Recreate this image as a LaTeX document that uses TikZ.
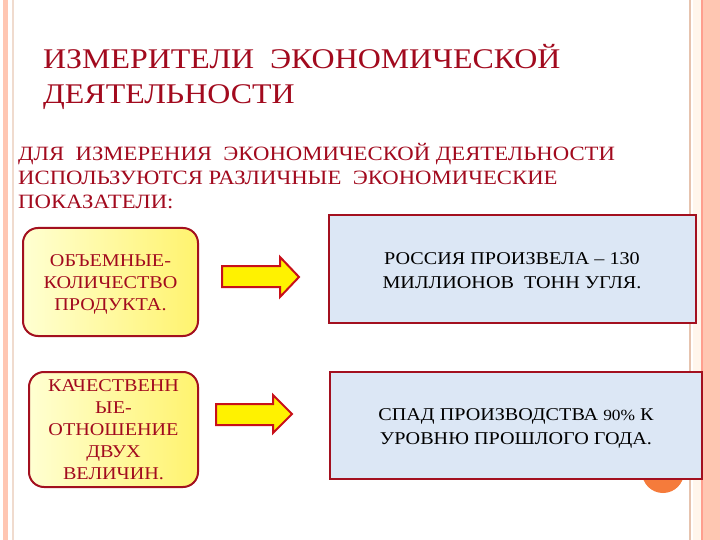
\documentclass[tikz,border=0pt]{standalone}
\usepackage{fontspec}
\setmainfont{Liberation Serif}[FakeStretch=1.12]
\definecolor{titlered}{HTML}{A20A1E}
\definecolor{boxred}{HTML}{A3101F}
\definecolor{arrowred}{HTML}{C8101A}
\definecolor{paleblue}{HTML}{DCE7F5}
\definecolor{salmon}{HTML}{FFC6B2}
\definecolor{tanline}{HTML}{E6C3AE}
\definecolor{cream}{HTML}{FFF6EC}
\definecolor{orangec}{HTML}{F57B3B}
\definecolor{paleyellow}{HTML}{FFFFD2}
\definecolor{midyellow}{HTML}{FFF36E}
\tikzset{
  leftbox/.style={draw=boxred, line width=2pt, rounded corners=15pt, left color=paleyellow, right color=midyellow, inner sep=0pt, align=center, text=titlered, font=\fontsize{18}{22}\selectfont},
  rightbox/.style={draw=boxred, line width=2pt, fill=paleblue, inner sep=0pt, align=center, text=black, font=\fontsize{18}{24}\selectfont},
  blockarrow/.style={draw=arrowred, line width=2pt, fill=yellow, line join=miter},
}
\begin{document}
\begin{tikzpicture}[x=1pt,y=-1pt]
\useasboundingbox (0,0) rectangle (720,540);
\fill[white] (0,0) rectangle (720,540);
% left border
\fill[salmon] (3,0) rectangle (8,540);
\fill[tanline!60] (12,0) rectangle (14,540);
% right border
\fill[tanline] (689,0) rectangle (691,540);
\fill[cream] (693,0) rectangle (701,540);
\fill[salmon!80!red] (701,0) rectangle (703,540);
\fill[salmon] (703,0) rectangle (720,540);
% orange circle
\fill[orangec] (663,472) circle (21);
% title
\node[anchor=base west, text=titlered, font=\fontsize{28.5}{35}\selectfont, inner sep=0pt] (title) at (43,69) {ИЗМЕРИТЕЛИ \ ЭКОНОМИЧЕСКОЙ};
\node[anchor=base west, text=titlered, font=\fontsize{28.5}{35}\selectfont, inner sep=0pt] (title2) at (43,104) {ДЕЯТЕЛЬНОСТИ};
% intro text
\node[anchor=base west, text=titlered, font=\fontsize{20.3}{24}\selectfont, inner sep=0pt] (l1) at (18,161) {ДЛЯ \ ИЗМЕРЕНИЯ \ ЭКОНОМИЧЕСКОЙ ДЕЯТЕЛЬНОСТИ};
\node[anchor=base west, text=titlered, font=\fontsize{20.3}{24}\selectfont, inner sep=0pt] (l2) at (18,185) {ИСПОЛЬЗУЮТСЯ РАЗЛИЧНЫЕ \ ЭКОНОМИЧЕСКИЕ};
\node[anchor=base west, text=titlered, font=\fontsize{20.3}{24}\selectfont, inner sep=0pt] (l3) at (18,209) {ПОКАЗАТЕЛИ:};
% boxes
\node[leftbox, minimum width=175pt, minimum height=108pt] (q1) at (110.5,282) {};
\node[text=titlered, font=\fontsize{18}{22}\selectfont, align=center] (q1t) at (110.5,284) {ОБЪЕМНЫЕ-\\КОЛИЧЕСТВО\\ПРОДУКТА.};
\node[leftbox, minimum width=169pt, minimum height=115pt] (q2) at (113.5,429.5) {КАЧЕСТВЕНН\\ЫЕ-\\ОТНОШЕНИЕ\\ДВУХ\\ВЕЛИЧИН.};
\node[rightbox, minimum width=367pt, minimum height=107pt] (e1) at (512.5,269) {};
\node[text=black, font=\fontsize{18}{24}\selectfont, align=center] (e1t) at (512,271) {РОССИЯ ПРОИЗВЕЛА – 130\\МИЛЛИОНОВ \ ТОНН УГЛЯ.};
\node[rightbox, minimum width=372pt, minimum height=107pt] (e2) at (515.5,425.5) {};
\node[text=black, font=\fontsize{18}{24}\selectfont, align=center] (e2t) at (516,428) {СПАД ПРОИЗВОДСТВА {\fontsize{15.5}{24}\selectfont 90\%} К\\УРОВНЮ ПРОШЛОГО ГОДА.};
% block arrows
\draw[blockarrow] (222,266) -- (280,266) -- (280,257) -- (299,277) -- (280,297) -- (280,287) -- (222,287) -- cycle;
\draw[blockarrow] (216,404) -- (273,404) -- (273,395) -- (292,414) -- (273,433) -- (273,425) -- (216,425) -- cycle;
\end{tikzpicture}
\end{document}
